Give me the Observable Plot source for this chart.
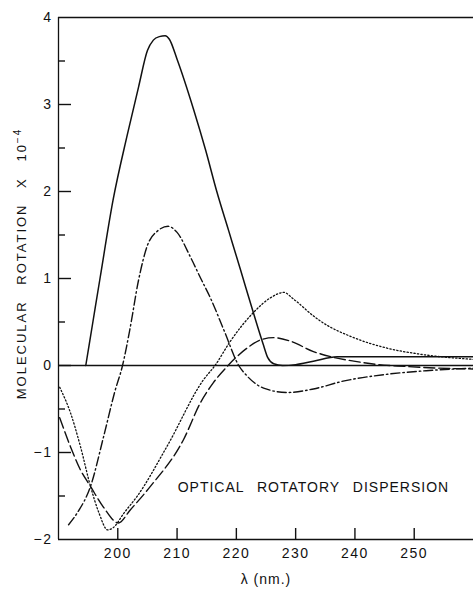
<!DOCTYPE html>
<html><head><meta charset="utf-8">
<script src="https://cdn.jsdelivr.net/npm/d3@7"></script>
<script src="https://cdn.jsdelivr.net/npm/@observablehq/plot@0.6"></script>
<style>
body{margin:0;background:#fff;}
</style></head><body><div id="chart"></div>
<script>
// Solid curve
const solidNm  = [194.6, 195.8, 197.0, 199.2, 201.6, 203.5, 205.0, 206.0, 207.0, 208.0, 208.7, 210.0, 212.8, 214.8, 216.7, 218.7, 220.7, 222.9, 224.5, 225.3, 226.3, 227.8, 230.0, 233.0, 237.0, 245.0, 252.0, 260.0];
const solidRot = [0, 0.5, 1.0, 1.9, 2.65, 3.2, 3.62, 3.74, 3.78, 3.79, 3.75, 3.52, 2.94, 2.48, 2.0, 1.55, 1.1, 0.6, 0.25, 0.09, 0.02, 0.0, 0.01, 0.05, 0.1, 0.1, 0.1, 0.1];
// Dash-dot curve
const dashDotNm  = [191.7, 193.2, 195.4, 197.6, 199.5, 200.8, 202.0, 203.5, 205.0, 206.6, 208.5, 210.0, 212.3, 214.0, 215.6, 218.0, 220.4, 221.8, 224.6, 228.6, 233.0, 238.0, 245.5, 252.0, 260.0];
const dashDotRot = [-1.83, -1.69, -1.39, -0.82, -0.3, 0, 0.4, 0.98, 1.38, 1.54, 1.6, 1.53, 1.24, 1.0, 0.78, 0.39, 0, -0.12, -0.26, -0.31, -0.27, -0.18, -0.1, -0.06, -0.03];
// Dotted curve
const dottedNm  = [190.2, 192.0, 193.7, 195.4, 196.8, 198.3, 199.3, 201.0, 203.3, 208.3, 214.5, 216.4, 219.0, 222.9, 225.8, 228.0, 229.7, 233.0, 234.2, 239.8, 245.4, 251.0, 260.0];
const dottedRot = [-0.25, -0.54, -0.93, -1.39, -1.69, -1.89, -1.86, -1.70, -1.50, -0.93, -0.16, 0, 0.28, 0.61, 0.78, 0.84, 0.76, 0.57, 0.51, 0.32, 0.2, 0.13, 0.07];
// Dashed curve
const dashedNm  = [190.2, 192.0, 193.7, 195.4, 197.6, 200.1, 202.1, 205.5, 211.1, 214.0, 216.1, 218.6, 221.8, 224.3, 226.3, 229.1, 233.0, 236.0, 239.8, 244.0, 248.3, 254.0, 260.0];
const dashedRot = [-0.6, -0.93, -1.2, -1.39, -1.63, -1.81, -1.66, -1.39, -0.85, -0.42, -0.2, 0, 0.2, 0.3, 0.32, 0.28, 0.16, 0.1, 0.05, 0.01, -0.01, -0.03, -0.04];

const xTicks = [200, 210, 220, 230, 240, 250];
const yTicks = [-2, -1, 0, 1, 2, 3, 4];
const yMajorMarks = [-1, 0, 1, 2, 3];
const yMinorMarks = [-1.5, -0.5, 0.5, 1.5, 2.5, 3.5];
const annotNm = [233];
const annotRot = [-1.4];
const annotText = ["OPTICAL ROTATORY DISPERSION"];
const yLabelMain = "MOLECULAR ROTATION X 10";
const yLabelSup = "−4";
const xLabel = "λ (nm.)";

const W = 473, H = 592, ML = 58, MR = 0, MT = 17, MB = 53;
const frameW = W - ML - MR, frameH = H - MT - MB;
const xDomain = [190, 260], yDomain = [-2, 4];
// tick lengths in pixels, converted to data units through the frame size
const nmPerPx = (xDomain[1] - xDomain[0]) / frameW;
const rotPerPx = (yDomain[1] - yDomain[0]) / frameH;
const majorLen = 13 * nmPerPx, minorLen = 7 * nmPerPx, xTickLen = 11 * rotPerPx;

const rows = (nm, rot) => nm.map((x, i) => ({nm: x, rot: rot[i]}));
const ink = "#111";
const lineOpts = {x: "nm", y: "rot", curve: "monotone-x", stroke: ink, strokeWidth: 1.4};

const chart = Plot.plot({
  width: W, height: H,
  marginLeft: ML, marginRight: MR, marginTop: MT, marginBottom: MB,
  x: {domain: xDomain, label: null},
  y: {domain: yDomain, label: null},
  style: {fontFamily: "'Liberation Sans', Arial, sans-serif", fontSize: "14px", color: ink, background: "#fff"},
  marks: [
    Plot.ruleY([yDomain[1], yDomain[0]], {stroke: ink, strokeWidth: 1.3}),
    Plot.ruleX([xDomain[0]], {stroke: ink, strokeWidth: 1.3}),
    Plot.ruleY([0], {stroke: ink, strokeWidth: 1.6}),
    Plot.ruleY(yMajorMarks, {y: d => d, x1: xDomain[0], x2: xDomain[0] + majorLen, stroke: ink, strokeWidth: 1.4}),
    Plot.ruleY(yMinorMarks, {y: d => d, x1: xDomain[0], x2: xDomain[0] + minorLen, stroke: ink, strokeWidth: 1.4}),
    Plot.ruleX(xTicks, {x: d => d, y1: yDomain[0], y2: yDomain[0] + xTickLen, stroke: ink, strokeWidth: 1.4}),
    Plot.axisY(yTicks, {anchor: "left", tickSize: 0, tickPadding: 6, label: null, fontSize: 14,
      tickFormat: d => d < 0 ? "−" + Math.abs(d) : String(d)}),
    Plot.axisX(xTicks, {anchor: "bottom", tickSize: 0, tickPadding: 9, label: null, fontSize: 14}),
    Plot.line(rows(solidNm, solidRot), {...lineOpts, strokeWidth: 1.5}),
    Plot.line(rows(dashDotNm, dashDotRot), {...lineOpts, strokeDasharray: "9,3,1.5,3"}),
    Plot.line(rows(dottedNm, dottedRot), {...lineOpts, strokeDasharray: "1.3,2.2", strokeWidth: 1.3}),
    Plot.line(rows(dashedNm, dashedRot), {...lineOpts, strokeDasharray: "11,4"}),
    Plot.text(annotText, {x: annotNm, y: annotRot, text: d => d, fontSize: 14, fill: ink}),
    Plot.text([yLabelMain], {frameAnchor: "left", textAnchor: "middle", rotate: -90, dx: -37, dy: -15, fontSize: 13, fill: ink}),
    Plot.text([xLabel], {frameAnchor: "bottom", textAnchor: "middle", dy: 44, fontSize: 14, fill: ink})
  ]
});
document.getElementById("chart").appendChild(chart);

const svg = d3.select(chart);
svg.selectAll('g[aria-label="x-axis tick label"] text, g[aria-label="y-axis tick label"] text').style("letter-spacing", "1.5px");
svg.selectAll('g[aria-label="text"] text').each(function() {
  const t = d3.select(this);
  const s = t.text();
  if (s === annotText[0]) t.style("letter-spacing", "1px").style("word-spacing", "8px");
  if (s === yLabelMain) {
    t.style("letter-spacing", "2px").style("word-spacing", "10px");
    t.append("tspan").attr("dy", "-0.45em").attr("font-size", "10px").text(yLabelSup);
  }
  if (s === xLabel) t.style("letter-spacing", "1px");
});
</script></body></html>
